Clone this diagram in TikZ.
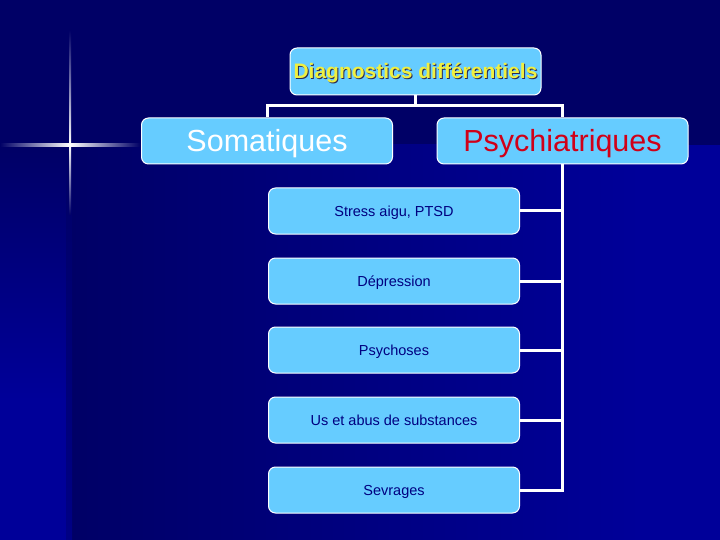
\documentclass[tikz,border=0pt]{standalone}
\usepackage{fontspec}
\setmainfont{Liberation Sans}
\usetikzlibrary{calc}
\definecolor{bgdark}{HTML}{000066}
\definecolor{bgbright}{HTML}{000099}
\definecolor{boxfill}{HTML}{66CCFF}
\definecolor{titleyellow}{HTML}{F0F040}
\definecolor{shadowcol}{HTML}{2A2A55}
\definecolor{childtext}{HTML}{000080}
\definecolor{psyred}{HTML}{D00018}
\tikzset{
  box/.style={draw=white, line width=1pt, fill=boxfill, rounded corners=7pt,
    minimum width=251pt, minimum height=46pt, inner sep=0pt, text depth=0pt},
  childbox/.style={box, text=childtext, font=\fontsize{14.5}{16}\selectfont, text height=10.4pt},
  bigbox/.style={box, font=\fontsize{30.5}{34}\selectfont, text height=21.8pt},
  titletext/.style={font=\bfseries\fontsize{21}{23}\selectfont, text height=15pt, text depth=0pt, inner sep=0pt},
  link/.style={draw=white, line width=3pt},
}
\begin{document}
\begin{tikzpicture}[x=1pt,y=-1pt]
% background
\fill[bgdark] (0,0) rectangle (720,540);
\shade[left color=bgdark, right color=bgbright] (70,145) rectangle (640,540);
\fill[bgbright] (639,145) rectangle (720,540);
\shade[top color=bgdark, bottom color=bgbright] (0,145) rectangle (68,400);
\fill[bgbright] (0,399) rectangle (68,540);
\shade[top color=bgdark, bottom color=bgdark!40!bgbright] (66,145) rectangle (72,540);
% sparkle
\shade[left color=bgdark, right color=white] (0,144) rectangle (70,146.2);
\shade[left color=white, right color=bgdark] (70,144) rectangle (140,146.2);
\shade[top color=bgdark, bottom color=white] (69,30) rectangle (71.2,145);
\shade[top color=white, bottom color=bgdark] (69,145) rectangle (71.2,215);
\fill[white] (70,145) circle (2pt);
% nodes
\node[box, minimum height=47pt] (top) at (415.5,71.5) {};
\node[titletext, text=shadowcol] (tops) at (416.5,72.5) {Diagnostics différentiels};
\node[titletext, text=titleyellow] (topt) at (415.5,71.5) {Diagnostics différentiels};
\node[bigbox, text=white] (som) at (267,141) {Somatiques};
\node[bigbox, text=psyred] (psy) at (562.5,141) {Psychiatriques};
\node[childbox] (c1) at (394,211) {Stress aigu, PTSD};
\node[childbox] (c2) at (394,281) {Dépression};
\node[childbox] (c3) at (394,350) {Psychoses};
\node[childbox] (c4) at (394,420) {Us et abus de substances};
\node[childbox] (c5) at (394,490) {Sevrages};
% connectors
\coordinate (j) at (415.5,106);
\draw[link] (top.south) -- (j);
\draw[link] (som.north) -- (som.north |- j) -- (psy.north |- j) -- (psy.north);
\draw[link] (psy.south) -- (psy.south |- c5.east) -- (c5.east);
\foreach \c in {c1,c2,c3,c4}{
  \draw[link] (\c.east) -- (\c.east -| psy.south);
}
\end{tikzpicture}
\end{document}
